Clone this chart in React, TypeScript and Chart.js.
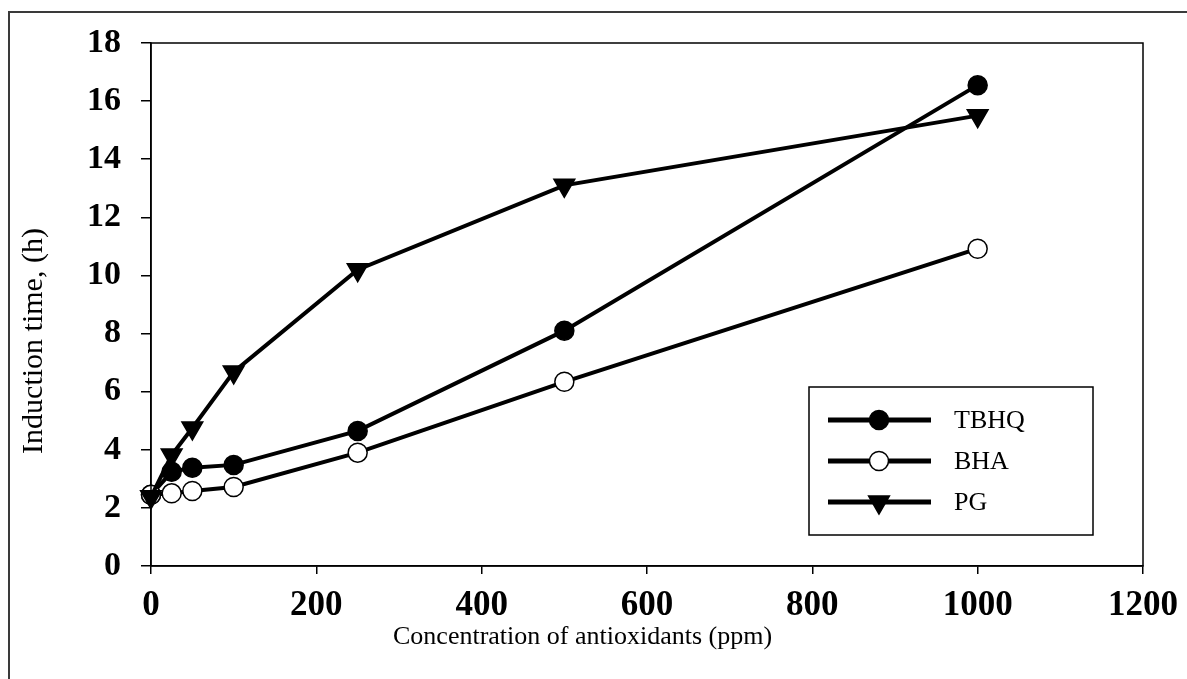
import React, { useEffect, useRef } from "react";
import { Chart, registerables } from "chart.js";

Chart.register(...registerables);

// ---- data ----
const concentrations = [0, 25, 50, 100, 250, 500, 1000];
const tbhqValues = [2.45, 3.24, 3.38, 3.48, 4.65, 8.1, 16.55];
const bhaValues = [2.45, 2.5, 2.58, 2.72, 3.9, 6.34, 10.92];
const pgValues = [2.38, 3.82, 4.75, 6.68, 10.2, 13.1, 15.5];
const seriesNames = ["TBHQ", "BHA", "PG"];
const xTitle = "Concentration of antioxidants (ppm)";
const yTitle = "Induction time, (h)";

const FONT = "'Liberation Serif', 'Times New Roman', serif";

const toPoints = (vals: number[]) => concentrations.map((x, i) => ({ x, y: vals[i] }));

const framePlugin = {
  id: "frameAndLegend",
  afterDraw(chart: any) {
    const { ctx, chartArea } = chart;
    ctx.save();
    // outer border (left & top visible)
    ctx.strokeStyle = "#3a3a3a";
    ctx.lineWidth = 2;
    ctx.beginPath();
    ctx.moveTo(9, 679);
    ctx.lineTo(9, 12);
    ctx.lineTo(1187, 12);
    ctx.stroke();

    // plot frame
    ctx.strokeStyle = "#000";
    ctx.lineWidth = 1.5;
    ctx.strokeRect(chartArea.left, chartArea.top, chartArea.right - chartArea.left, chartArea.bottom - chartArea.top);

    // axis titles (positioned as in the reference)
    ctx.fillStyle = "#000";
    ctx.font = `26px ${FONT}`;
    ctx.textAlign = "left";
    ctx.textBaseline = "middle";
    ctx.fillText(xTitle, 393, 637);

    ctx.save();
    ctx.translate(34, 341);
    ctx.rotate(-Math.PI / 2);
    ctx.font = `30px ${FONT}`;
    ctx.textAlign = "center";
    ctx.textBaseline = "middle";
    ctx.fillText(yTitle, 0, 0);
    ctx.restore();

    // legend box
    const bx = 809, by = 387, bw = 284, bh = 148;
    ctx.fillStyle = "#fff";
    ctx.fillRect(bx, by, bw, bh);
    ctx.lineWidth = 1.5;
    ctx.strokeStyle = "#000";
    ctx.strokeRect(bx, by, bw, bh);

    const rows = [420, 461, 502];
    chart.data.datasets.forEach((ds: any, i: number) => {
      const y = rows[i];
      ctx.strokeStyle = "#000";
      ctx.lineWidth = 5;
      ctx.beginPath();
      ctx.moveTo(828, y);
      ctx.lineTo(931, y);
      ctx.stroke();
      const mx = 879;
      ctx.lineWidth = 1.5;
      ctx.fillStyle = ds.pointBackgroundColor;
      ctx.beginPath();
      if (ds.pointStyle === "triangle") {
        const r = ds.pointRadius;
        ctx.moveTo(mx, y + r);
        ctx.lineTo(mx - r * 0.866, y - r / 2);
        ctx.lineTo(mx + r * 0.866, y - r / 2);
        ctx.closePath();
      } else {
        ctx.arc(mx, y, ds.pointRadius, 0, Math.PI * 2);
      }
      ctx.fill();
      ctx.stroke();
      ctx.fillStyle = "#000";
      ctx.font = `26px ${FONT}`;
      ctx.textAlign = "left";
      ctx.textBaseline = "middle";
      ctx.fillText(ds.label, 954, y + 1);
    });
    ctx.restore();
  },
};

export default function App() {
  const ref = useRef<HTMLCanvasElement | null>(null);

  useEffect(() => {
    if (!ref.current) return;
    const common = {
      borderColor: "#000",
      borderWidth: 4,
      pointBorderColor: "#000",
      pointBorderWidth: 1.5,
      showLine: true,
      clip: false as any,
      tension: 0,
    };
    const chart = new Chart(ref.current, {
      type: "scatter",
      data: {
        datasets: [
          {
            ...common,
            label: seriesNames[0],
            data: toPoints(tbhqValues),
            pointStyle: "circle",
            pointRadius: 9.5,
            pointBackgroundColor: "#000",
            order: 2,
          },
          {
            ...common,
            label: seriesNames[1],
            data: toPoints(bhaValues),
            pointStyle: "circle",
            pointRadius: 9.5,
            pointBackgroundColor: "#fff",
            order: 1,
          },
          {
            ...common,
            label: seriesNames[2],
            data: toPoints(pgValues),
            pointStyle: "triangle",
            pointRotation: 180,
            pointRadius: 12,
            pointBackgroundColor: "#000",
            order: 0,
          },
        ] as any,
      },
      options: {
        animation: false,
        responsive: false,
        layout: { padding: { left: 0, top: 43, right: 44, bottom: 0 } },
        plugins: { legend: { display: false }, tooltip: { enabled: false } },
        scales: {
          x: {
            type: "linear",
            min: 0,
            max: 1200,
            afterFit: (s: any) => {
              s.height = 113;
              s.paddingLeft = 0;
              s.paddingRight = 0;
            },
            ticks: {
              stepSize: 200,
              color: "#000",
              padding: 11,
              font: { family: FONT, size: 35, weight: "bold" },
              callback: (v: any) => String(v),
            },
            grid: {
              drawOnChartArea: false,
              drawTicks: true,
              tickLength: 8,
              color: "#000",
              lineWidth: 1.5,
            },
            border: { display: true, color: "#000", width: 1.5 },
            title: { display: false },
          },
          y: {
            type: "linear",
            min: 0,
            max: 18,
            afterFit: (s: any) => {
              s.width = 151;
              s.paddingTop = 0;
              s.paddingBottom = 0;
            },
            ticks: {
              stepSize: 2,
              color: "#000",
              padding: 20,
              font: { family: FONT, size: 34, weight: "bold" },
              callback: (v: any) => String(v),
            },
            grid: {
              drawOnChartArea: false,
              drawTicks: true,
              tickLength: 10,
              color: "#000",
              lineWidth: 1.5,
            },
            border: { display: true, color: "#000", width: 1.5 },
            title: { display: false },
          },
        },
      } as any,
      plugins: [framePlugin],
    });
    return () => chart.destroy();
  }, []);

  return (
    <div style={{ position: "fixed", left: 0, top: 0, width: 1187, height: 679, background: "#fff" }}>
      <canvas ref={ref} width={1187} height={679} style={{ display: "block" }} />
    </div>
  );
}
